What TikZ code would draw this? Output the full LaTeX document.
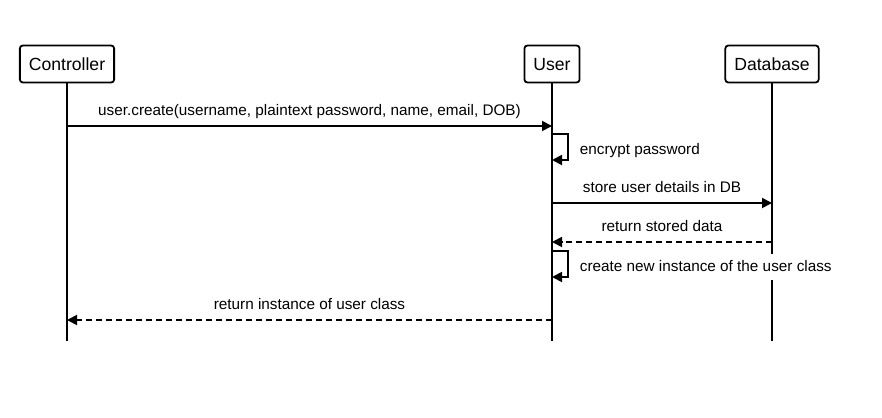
\documentclass[tikz,border=0pt]{standalone}
\usepackage{fontspec}
\setmainfont{Liberation Sans}
\usetikzlibrary{arrows.meta}
\tikzset{
    every node/.style={font=\fontsize{15.3}{18}\selectfont, inner sep=1pt,
    	text height=11pt, text depth=3pt}
}
\tikzset{
    actor/.style={draw, line width=1.8pt, rounded corners=3pt, fill=white,
    	inner xsep=9pt, minimum height=37pt, font=\fontsize{17.6}{20}\selectfont,
    	text height=12.5pt, text depth=0pt},
    lifeline/.style={line width=1.8pt},
    msg/.style={line width=1.8pt, -{Triangle[length=10pt, width=10pt]}},
    reply/.style={msg, dash pattern=on 6pt off 4pt},
    msgtext/.style={above=6pt}
}

\begin{document}
\begin{tikzpicture}[x=1pt, y=-1pt]
	\useasboundingbox (0,0) rectangle (882,417);
	\node (ctrl) [actor] at (67,64) {Controller};
	\node (user) [actor] at (552,64) {User};
	\node (db) [actor] at (772,64) {Database};
	\coordinate (ctrlEnd) at (67,341);
	\coordinate (userEnd) at (552,341);
	\coordinate (dbEnd) at (772,341);
	
	\draw [lifeline] (ctrl) -- (ctrlEnd);
	\draw [lifeline] (user) -- (userEnd);
	\draw [lifeline] (db) -- (dbEnd);
	
	\coordinate (c1) at (67,126); \coordinate (u1) at (552,126);
	\coordinate (u2) at (552,134); \coordinate (u3) at (552,160);
	\coordinate (u4) at (552,203); \coordinate (d1) at (772,203);
	\coordinate (d2) at (772,242); \coordinate (u5) at (552,242);
	\coordinate (u6) at (552,251); \coordinate (u7) at (552,277);
	\coordinate (u8) at (552,320); \coordinate (c2) at (67,320);
	
	\draw [msg] (c1) -- node [msgtext] {user.create(username, plaintext password, name, email, DOB)} (u1);
	\draw [msg] (u2) -- ++(16,0) |- node [pos=.25, right=10pt, yshift=-3pt] {encrypt password} (u3);
	\draw [msg] (u4) -- node [msgtext] {store user details in DB} (d1);
	\draw [reply] (d2) -- node [msgtext] {return stored data} (u5);
	\draw [msg] (u6) -- ++(16,0) |- node [pos=.25, right=10pt, yshift=-3pt, fill=white, inner ysep=6pt] {create new instance of the user class} (u7);
	\draw [reply] (u8) -- node [msgtext] {return instance of user class} (c2);
\end{tikzpicture}
\end{document}
